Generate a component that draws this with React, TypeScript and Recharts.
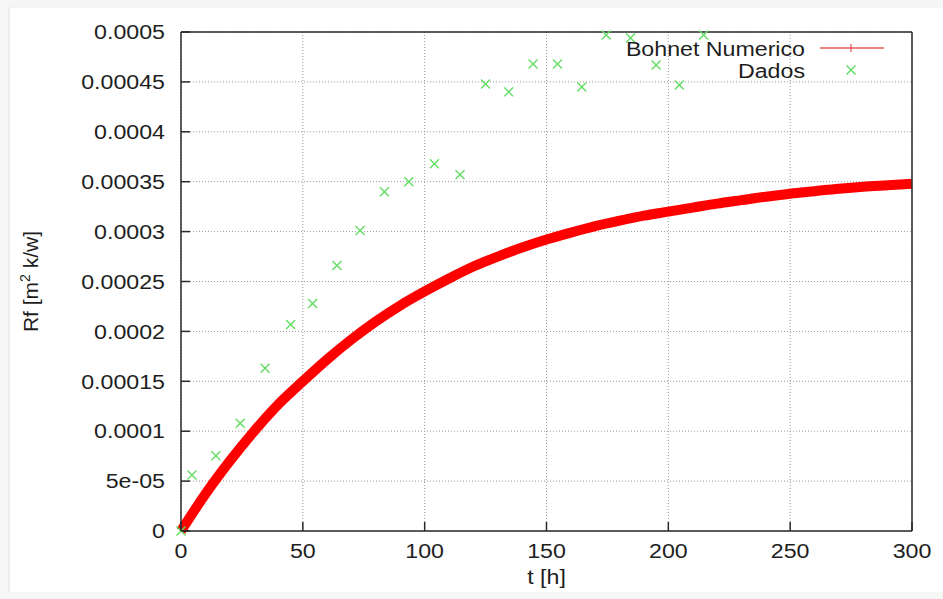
import {
  ComposedChart,
  Line,
  Scatter,
  XAxis,
  YAxis,
  CartesianGrid,
  Legend,
} from "recharts";

// modelo de Bohnet (curva numerica), t em horas
const bohnetT = [
  0, 10, 20, 30, 40, 50, 60, 70, 80, 90, 100, 110, 120, 130, 140, 150, 160,
  170, 180, 190, 200, 210, 220, 230, 240, 250, 260, 270, 280, 290, 300,
];
const bohnetRf = [
  0, 0.000037, 0.00007, 0.0001, 0.000127, 0.00015, 0.000172, 0.000192,
  0.00021, 0.000226, 0.00024, 0.000253, 0.000265, 0.000275, 0.000284,
  0.000292, 0.000299, 0.0003055, 0.000311, 0.000316, 0.00032, 0.000324,
  0.000328, 0.0003315, 0.000335, 0.000338, 0.0003405, 0.000343, 0.000345,
  0.0003465, 0.000348,
];

// dados experimentais
const dadosT = [
  0, 4.5, 14.3, 24.3, 34.5, 45, 54, 64, 73.5, 83.5, 93.5, 104, 114.5, 125,
  134.5, 144.5, 154.5, 164.5, 174.5, 184.5, 195, 204.5, 214.5,
];
const dadosRf = [
  0, 0.000056, 0.0000754, 0.000108, 0.000163, 0.000207, 0.000228, 0.000266,
  0.000301, 0.00034, 0.00035, 0.000368, 0.000357, 0.000448, 0.00044,
  0.000468, 0.000468, 0.000445, 0.000497, 0.000494, 0.000467, 0.000447,
  0.000497,
];

const xTicks = [0, 50, 100, 150, 200, 250, 300];
const yTicks = [
  0, 0.00005, 0.0001, 0.00015, 0.0002, 0.00025, 0.0003, 0.00035, 0.0004,
  0.00045, 0.0005,
];
const yTickLabels = [
  "0", "5e-05", "0.0001", "0.00015", "0.0002", "0.00025", "0.0003",
  "0.00035", "0.0004", "0.00045", "0.0005",
];

const bohnetData = bohnetT.map((t, i) => ({ t, rf: bohnetRf[i] }));
const dadosData = dadosT.map((t, i) => ({ t, rf: dadosRf[i] }));

const FONT = "'Liberation Sans', Arial, Helvetica, sans-serif";
const SX = 1.16;
const AXIS = "#2a2a2a";
const RED = "#ff0000";
const GREEN = "#63dd63";

function SText({ x, y, anchor = "start", size = 20, dy = "0", children }: any) {
  return (
    <text
      transform={`translate(${x},${y}) scale(${SX},1)`}
      textAnchor={anchor}
      dy={dy}
      fontFamily={FONT}
      fontSize={size}
      fill="#1e1e1e"
    >
      {children}
    </text>
  );
}

function Cross({ cx, cy, color = GREEN }: any) {
  const s = 4.5;
  return (
    <g stroke={color} strokeWidth={1.4}>
      <line x1={cx - s} y1={cy - s} x2={cx + s} y2={cy + s} />
      <line x1={cx - s} y1={cy + s} x2={cx + s} y2={cy - s} />
    </g>
  );
}

function LeftTick({ x, y, index }: any) {
  return (
    <g>
      <line x1={x + 16} x2={x + 25} y1={y} y2={y} stroke={AXIS} strokeWidth={1.5} />
      <SText x={x} y={y} anchor="end" dy="0.36em">
        {yTickLabels[index]}
      </SText>
    </g>
  );
}

function BottomTick({ x, y, payload }: any) {
  return (
    <g>
      <line x1={x} x2={x} y1={y - 13} y2={y - 22} stroke={AXIS} strokeWidth={1.5} />
      <SText x={x} y={y} anchor="middle" dy="0.7em">
        {payload.value}
      </SText>
    </g>
  );
}

function LegendBox() {
  return (
    <svg width={943} height={100} style={{ display: "block" }}>
      <SText x={805} y={49} anchor="end" dy="0.36em">
        Bohnet Numerico
      </SText>
      <line x1={820} x2={884} y1={48} y2={48} stroke="#e35b5b" strokeWidth={1.3} />
      <line x1={851} x2={851} y1={44} y2={52} stroke="#e35b5b" strokeWidth={1.3} />
      <SText x={805} y={71} anchor="end" dy="0.36em">
        Dados
      </SText>
      <Cross cx={851} cy={70} />
    </svg>
  );
}

export default function App() {
  return (
    <div
      style={{
        position: "absolute",
        left: 0,
        top: 0,
        width: 943,
        height: 599,
        background: "#f6f6f6",
      }}
    >
      <div
        style={{
          position: "absolute",
          left: 8,
          top: 7,
          width: 935,
          height: 584,
          background: "#fff",
          borderLeft: "2px solid #ececec",
          borderTop: "1px solid #f3f3f3",
        }}
      />
      <ComposedChart
        width={943}
        height={599}
        margin={{ top: 32, right: 31, bottom: 28, left: 0 }}
        style={{ position: "absolute", left: 0, top: 0 }}
      >
        <CartesianGrid
          stroke="#9a9a9a"
          strokeDasharray="1 2"
          horizontalValues={yTicks}
          verticalValues={xTicks}
        />
        <XAxis
          type="number"
          dataKey="t"
          domain={[0, 300]}
          ticks={xTicks}
          height={40}
          tickSize={0}
          tickMargin={13}
          tickLine={false}
          axisLine={{ stroke: AXIS, strokeWidth: 1.5 }}
          tick={<BottomTick />}
          label={{
            value: "t [h]",
            content: ({ viewBox }: any) => (
              <SText x={viewBox.x + viewBox.width / 2} y={viewBox.y + 53} anchor="middle">
                t [h]
              </SText>
            ),
          }}
        />
        <XAxis
          xAxisId="top"
          orientation="top"
          type="number"
          dataKey="t"
          domain={[0, 300]}
          ticks={xTicks}
          mirror
          tick={false}
          tickSize={9}
          tickLine={{ stroke: AXIS, strokeWidth: 1.5 }}
          axisLine={{ stroke: AXIS, strokeWidth: 1.5 }}
        />
        <YAxis
          type="number"
          domain={[0, 0.0005]}
          ticks={yTicks}
          width={181}
          tickSize={0}
          tickMargin={16}
          tickLine={false}
          axisLine={{ stroke: AXIS, strokeWidth: 1.5 }}
          tick={<LeftTick />}
          label={{
            value: "Rf",
            content: ({ viewBox }: any) => {
              const cy = viewBox.y + viewBox.height / 2;
              return (
                <text
                  transform={`translate(38,${cy}) rotate(-90)`}
                  textAnchor="middle"
                  fontFamily={FONT}
                  fontSize={21}
                  fill="#1e1e1e"
                >
                  Rf [m
                  <tspan dy={-8} fontSize={14}>2</tspan>
                  <tspan dy={8}> k/w]</tspan>
                </text>
              );
            },
          }}
        />
        <YAxis
          yAxisId="right"
          orientation="right"
          type="number"
          domain={[0, 0.0005]}
          ticks={yTicks}
          mirror
          tick={false}
          tickSize={9}
          tickLine={{ stroke: AXIS, strokeWidth: 1.5 }}
          axisLine={{ stroke: AXIS, strokeWidth: 1.5 }}
        />
        <Line
          data={bohnetData}
          dataKey="rf"
          type="monotone"
          stroke={RED}
          strokeWidth={10}
          dot={false}
          isAnimationActive={false}
        />
        <Scatter
          data={dadosData}
          dataKey="rf"
          shape={(p: any) => <Cross cx={p.cx} cy={p.cy} />}
          isAnimationActive={false}
        />
        <Legend
          layout="horizontal"
          verticalAlign="middle"
          align="center"
          wrapperStyle={{ position: "absolute", top: 0, left: 0, width: 943, height: 100 }}
          content={() => <LegendBox />}
        />
      </ComposedChart>
    </div>
  );
}
